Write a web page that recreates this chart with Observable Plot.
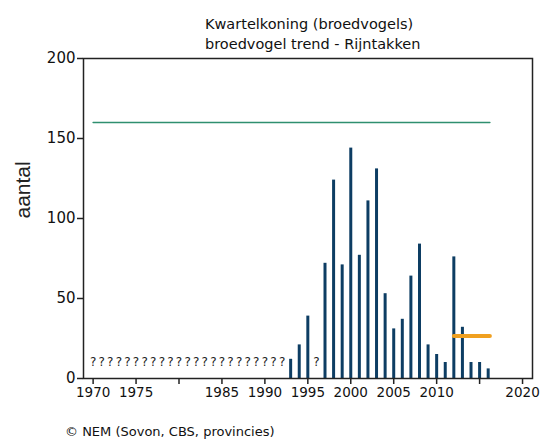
<!DOCTYPE html>
<html>
<head>
<meta charset="utf-8">
<script src="https://cdn.jsdelivr.net/npm/d3@7"></script>
<script src="https://cdn.jsdelivr.net/npm/@observablehq/plot@0.6"></script>
<style>
  html, body { margin: 0; padding: 0; background: #fff; }
  #wrap { position: relative; width: 543px; height: 441px; overflow: hidden; font-family: "DejaVu Sans", sans-serif; color: #111; background: #fff; }
  #title { position: absolute; top: 14px; left: 205px; width: 200px; text-align: center; font-size: 14.5px; line-height: 20px; white-space: nowrap; z-index: 2; }
  #chart { position: absolute; top: 50px; left: 0; z-index: 1; }
  #caption { position: absolute; top: 423px; left: 65px; font-size: 13px; line-height: 18px; white-space: nowrap; }
</style>
</head>
<body>
<div id="wrap">
  <div id="title">Kwartelkoning (broedvogels)<br>broedvogel trend - Rijntakken</div>
  <div id="chart"></div>
  <div id="caption">© NEM (Sovon, CBS, provincies)</div>
</div>
<script>
// Data
const years = [1993, 1994, 1995, 1997, 1998, 1999, 2000, 2001, 2002, 2003, 2004, 2005, 2006, 2007, 2008, 2009, 2010, 2011, 2012, 2013, 2014, 2015, 2016];
const counts = [12, 21, 39, 72, 124, 71, 144, 77, 111, 131, 53, 31, 37, 64, 84, 21, 15, 10, 76, 32, 10, 10, 6];
const unknownYears = [1970, 1971, 1972, 1973, 1974, 1975, 1976, 1977, 1978, 1979, 1980, 1981, 1982, 1983, 1984, 1985, 1986, 1987, 1988, 1989, 1990, 1991, 1992, 1996];
const unknownLevel = 10.5;
const targetLine = [{year: 1970, value: 160}, {year: 2016.2, value: 160}];
const trendLine = [{year: 2012, value: 26.5}, {year: 2016.2, value: 26.5}];
const xTicks = [1970, 1975, 1980, 1985, 1990, 1995, 2000, 2005, 2010, 2015, 2020];
const xTickLabels = ["1970", "1975", "", "1985", "1990", "1995", "2000", "2005", "2010", "", "2020"];
const yTicks = [0, 50, 100, 150, 200];

const bars = years.map((y, i) => ({year: y, value: counts[i]}));
const unknown = unknownYears.map(y => ({year: y, value: unknownLevel}));

const chart = Plot.plot({
  width: 543,
  height: 370,
  marginTop: 8,
  marginBottom: 42,
  marginLeft: 83,
  marginRight: 11,
  style: {fontFamily: "DejaVu Sans, sans-serif", color: "#111", background: "transparent"},
  x: {domain: [1968.88, 2021.16]},
  y: {domain: [0, 200]},
  marks: [
    Plot.ruleX(bars, {x: "year", y1: 0, y2: "value", stroke: "#0d3d63", strokeWidth: 3}),
    Plot.text(unknown, {x: "year", y: "value", text: () => "?", fontSize: 12, fill: "#222"}),
    Plot.line(targetLine, {x: "year", y: "value", stroke: "#2f8f6f", strokeWidth: 1.5}),
    Plot.line(trendLine, {x: "year", y: "value", stroke: "#f0a020", strokeWidth: 4}),
    Plot.frame({stroke: "#222", strokeWidth: 1.5}),
    Plot.axisX({ticks: xTicks, tickFormat: (d) => xTickLabels[xTicks.indexOf(d)], tickSize: 6, tickPadding: 3, fontSize: 13.5, label: null, stroke: "#222", strokeWidth: 1.5}),
    Plot.axisY({ticks: yTicks, tickSize: 6, tickPadding: 2, fontSize: 15, label: null, stroke: "#222", strokeWidth: 1.5}),
    Plot.text(["aantal"], {frameAnchor: "left", dx: -60, rotate: -90, fontSize: 21, fontFamily: "Liberation Sans, sans-serif", fill: "#222"})
  ]
});
document.getElementById("chart").appendChild(chart);
</script>
</body>
</html>
